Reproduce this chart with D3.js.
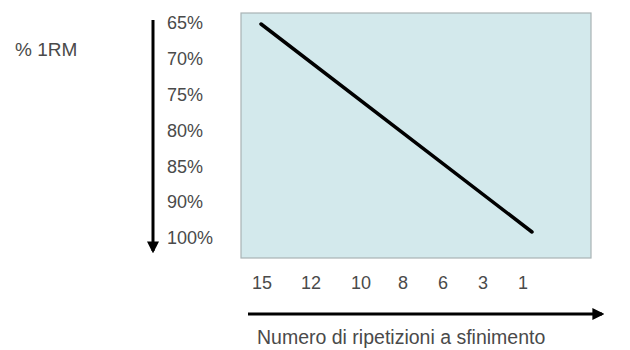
<!DOCTYPE html>
<html>
<head>
<meta charset="utf-8">
<script src="https://cdn.jsdelivr.net/npm/d3@7"></script>
<style>
  body { margin: 0; background: #fff; }
  text { font-family: "Liberation Sans", Arial, sans-serif; fill: #4a4a4a; }
</style>
</head>
<body>
<div id="chart"></div>
<script>
var repLabels = ["15", "12", "10", "8", "6", "3", "1"];
var pctLabels = ["65%", "70%", "75%", "80%", "85%", "90%", "100%"];
var lineReps = [15, 1];
var linePct = [65, 100];
var yTitle = "% 1RM";
var xTitle = "Numero di ripetizioni a sfinimento";

function init() {
    var w = 630, h = 350;
    var box = { x: 241, y: 13, w: 350, h: 245 };

    var svg = d3.select("#chart")
        .append("svg")
        .attr("width", w)
        .attr("height", h);

    var defs = svg.append("defs");
    defs.append("marker")
        .attr("id", "head")
        .attr("viewBox", "0 0 10 10")
        .attr("refX", 8).attr("refY", 5)
        .attr("markerWidth", 4).attr("markerHeight", 4)
        .attr("orient", "auto")
        .append("path")
        .attr("d", "M0,0 L10,5 L0,10 z")
        .attr("fill", "#000");

    svg.append("rect")
        .attr("x", box.x).attr("y", box.y)
        .attr("width", box.w).attr("height", box.h)
        .attr("fill", "#d3e9ec")
        .attr("stroke", "#a9b3b5")
        .attr("stroke-width", 1.2);

    // tick label scales (labels are not evenly spaced along x)
    var xTick = d3.scaleOrdinal()
        .domain(repLabels)
        .range([262, 311, 361, 403, 443, 483, 523]);
    var yTick = d3.scalePoint()
        .domain(pctLabels)
        .range([23, 238]);

    svg.selectAll(".ylab")
        .data(pctLabels)
        .enter()
        .append("text")
        .attr("class", "ylab")
        .attr("x", 167)
        .attr("y", function (d) { return yTick(d); })
        .attr("dy", "0.35em")
        .style("font-size", "18px")
        .text(function (d) { return d; });

    svg.selectAll(".xlab")
        .data(repLabels)
        .enter()
        .append("text")
        .attr("class", "xlab")
        .attr("x", function (d) { return xTick(d); })
        .attr("y", 283)
        .attr("dy", "0.35em")
        .attr("text-anchor", "middle")
        .style("font-size", "18px")
        .text(function (d) { return d; });

    // the line itself
    var x = d3.scaleLinear().domain([15, 1]).range([261, 532]);
    var y = d3.scaleLinear().domain([65, 100]).range([24, 232]);
    var pts = lineReps.map(function (r, i) { return [r, linePct[i]]; });

    svg.append("path")
        .datum(pts)
        .attr("fill", "none")
        .attr("stroke", "#000")
        .attr("stroke-width", 3.5)
        .attr("stroke-linecap", "round")
        .attr("d", d3.line()
            .x(function (d) { return x(d[0]); })
            .y(function (d) { return y(d[1]); }));

    // arrows
    svg.append("line")
        .attr("x1", 153).attr("y1", 20)
        .attr("x2", 153).attr("y2", 251)
        .attr("stroke", "#000")
        .attr("stroke-width", 3)
        .attr("marker-end", "url(#head)");

    svg.append("line")
        .attr("x1", 248).attr("y1", 314)
        .attr("x2", 602).attr("y2", 314)
        .attr("stroke", "#000")
        .attr("stroke-width", 3)
        .attr("marker-end", "url(#head)");

    svg.append("text")
        .attr("x", 15).attr("y", 49)
        .attr("dy", "0.35em")
        .style("font-size", "19px")
        .text(yTitle);

    svg.append("text")
        .attr("x", 257).attr("y", 337)
        .attr("dy", "0.35em")
        .style("font-size", "19.5px")
        .text(xTitle);
}

window.onload = init;
</script>
</body>
</html>
